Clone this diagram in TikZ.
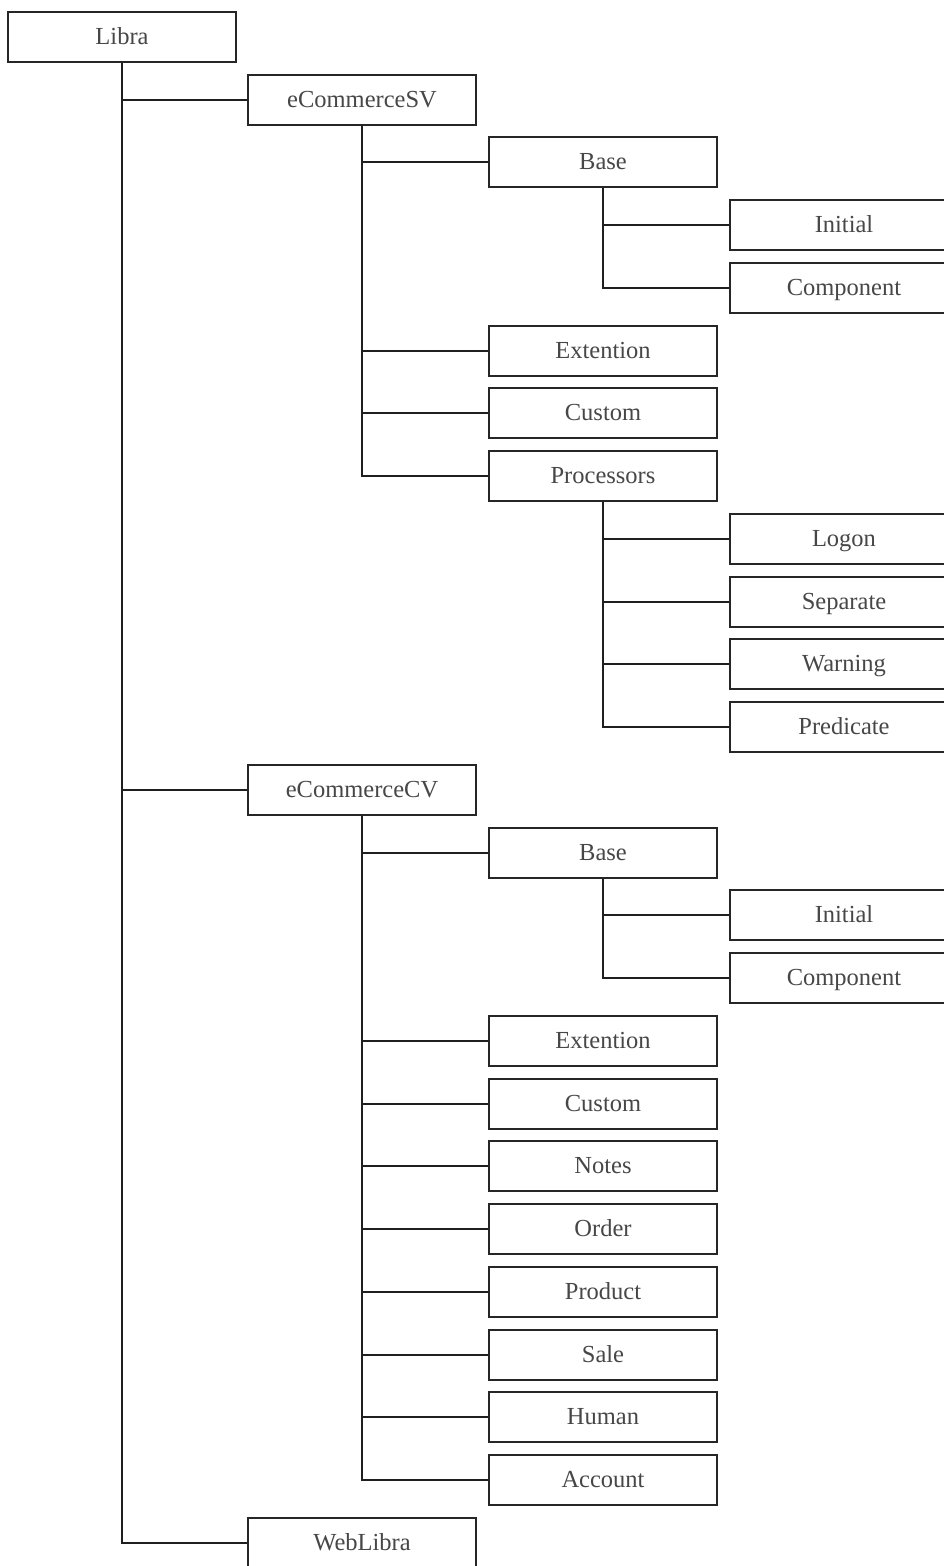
\documentclass[tikz,border=0pt]{standalone}
\usepackage{fontspec}
\setmainfont{Liberation Serif}
\begin{document}
\begin{tikzpicture}[x=1pt,y=-1pt,
  box/.style={draw=black!85, line width=2pt, fill=white, minimum width=228pt, minimum height=50pt,
    inner sep=0pt, text=black!72, font=\fontsize{24.5}{27}\selectfont, text height=17pt, text depth=3pt},
  link/.style={draw=black!88, line width=2pt}]
\clip (0,0) rectangle (944,1566);
\fill[white] (0,0) rectangle (944,1566);
% level 0
\node[box] (libra) at (122,37) {Libra};
% level 1
\node[box] (sv) at (362,100) {eCommerceSV};
\node[box] (cv) at (362,790) {eCommerceCV};
\node[box] (web) at (362,1543) {WebLibra};
% SV children
\node[box] (svbase) at (603,162) {Base};
\node[box] (svinit) at (844,225) {Initial};
\node[box] (svcomp) at (844,288) {Component};
\node[box] (svext) at (603,351) {Extention};
\node[box] (svcust) at (603,413) {Custom};
\node[box] (svproc) at (603,476) {Processors};
\node[box] (logon) at (844,539) {Logon};
\node[box] (sep) at (844,602) {Separate};
\node[box] (warn) at (844,664) {Warning};
\node[box] (pred) at (844,727) {Predicate};
% CV children
\node[box] (cvbase) at (603,853) {Base};
\node[box] (cvinit) at (844,915) {Initial};
\node[box] (cvcomp) at (844,978) {Component};
\node[box] (cvext) at (603,1041) {Extention};
\node[box] (cvcust) at (603,1104) {Custom};
\node[box] (notes) at (603,1166) {Notes};
\node[box] (order) at (603,1229) {Order};
\node[box] (prod) at (603,1292) {Product};
\node[box] (sale) at (603,1355) {Sale};
\node[box] (human) at (603,1417) {Human};
\node[box] (acct) at (603,1480) {Account};
% connectors
\foreach \p/\c in {libra/sv, libra/cv, libra/web,
  sv/svbase, sv/svext, sv/svcust, sv/svproc,
  svbase/svinit, svbase/svcomp,
  svproc/logon, svproc/sep, svproc/warn, svproc/pred,
  cv/cvbase, cv/cvext, cv/cvcust, cv/notes, cv/order, cv/prod, cv/sale, cv/human, cv/acct,
  cvbase/cvinit, cvbase/cvcomp}
  \draw[link] (\p.south) |- (\c.west);
\end{tikzpicture}
\end{document}
